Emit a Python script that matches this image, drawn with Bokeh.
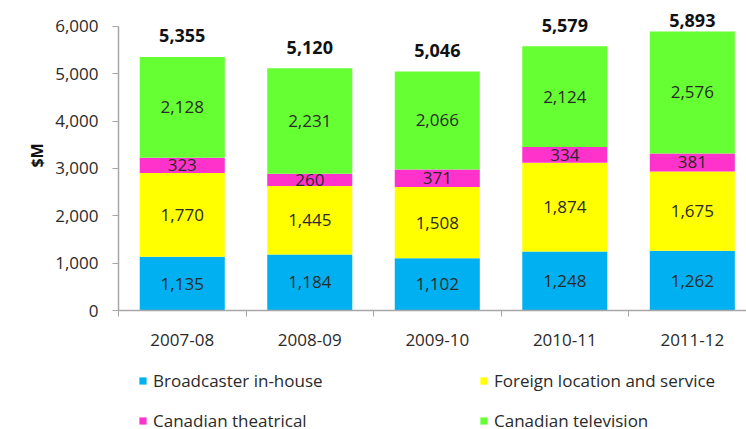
import math
from bokeh.plotting import figure
from bokeh.layouts import column
from bokeh.models import (Range1d, FixedTicker, Legend, LegendItem, Title,
                          ColumnDataSource, NumeralTickFormatter)
from bokeh.core.properties import value
from bokeh.embed import file_html
from bokeh.resources import INLINE

# ---- data ----
years = ["2007-08", "2008-09", "2009-10", "2010-11", "2011-12"]
broadcaster = [1135, 1184, 1102, 1248, 1262]
foreign = [1770, 1445, 1508, 1874, 1675]
theatrical = [323, 260, 371, 334, 381]
television = [2128, 2231, 2066, 2124, 2576]
totals = [5355, 5120, 5046, 5579, 5893]
series_names = ["Broadcaster in-house", "Foreign location and service",
                "Canadian theatrical", "Canadian television"]
y_ticks = [0, 1000, 2000, 3000, 4000, 5000, 6000]

# ---- style ----
colors = ["#00b0f0", "#ffff00", "#ff33cc", "#66ff33"]
FONT = "Open Sans"
TXT = "#2a2a2a"
AXIS = "#a6a6a6"

xs = [i + 0.5 for i in range(len(years))]
bounds = [i for i in range(len(years) + 1)]
series = [broadcaster, foreign, theatrical, television]

p = figure(width=746, height=360, output_backend="svg", toolbar_location=None,
           x_range=Range1d(0, 4.925), y_range=Range1d(0, 6549),
           min_border_left=118, min_border_right=0, min_border_top=0,
           min_border_bottom=50)
p.outline_line_color = None
p.xgrid.visible = False
p.ygrid.visible = False
p.background_fill_color = "white"

bottom = [0] * len(years)
lab_x, lab_y, lab_t = [], [], []
for vals, col in zip(series, colors):
    top = [b + v for b, v in zip(bottom, vals)]
    src = ColumnDataSource(dict(x=xs, bottom=bottom, top=top))
    p.vbar(x="x", bottom="bottom", top="top", width=0.667, source=src,
           fill_color=col, line_color=None)
    for x, b, v in zip(xs, bottom, vals):
        lab_x.append(x)
        lab_y.append(b + v / 2)
        lab_t.append(f"{v:,}")
    bottom = top

p.text(x=lab_x, y=lab_y, text=lab_t, text_align="center", text_baseline="middle",
       text_font=value(FONT), text_font_size="17px", text_color=TXT)

tot_y = [min(t + 445, 6125) for t in totals]
p.text(x=xs, y=tot_y, text=[f"{t:,}" for t in totals], text_align="center",
       text_baseline="middle", text_font=value(FONT), text_font_size="18px",
       text_font_style="bold", text_color="#111111")

# y axis
ya = p.yaxis[0]
ya.ticker = FixedTicker(ticks=y_ticks)
ya.formatter = NumeralTickFormatter(format="0,0")
ya.bounds = (0, 6000)
ya.axis_line_color = AXIS
ya.axis_line_width = 1.5
ya.major_tick_line_color = AXIS
ya.major_tick_out = 6
ya.major_tick_in = 0
ya.minor_tick_line_color = None
ya.major_label_standoff = 14
ya.major_label_text_font = FONT
ya.major_label_text_font_size = "17px"
ya.major_label_text_color = TXT

# x axis
xa = p.xaxis[0]
xa.ticker = FixedTicker(ticks=xs, minor_ticks=bounds)
xa.major_label_overrides = {x: y for x, y in zip(xs, years)}
xa.axis_line_color = AXIS
xa.axis_line_width = 1.5
xa.major_tick_line_color = None
xa.major_tick_out = 0
xa.major_tick_in = 0
xa.minor_tick_line_color = AXIS
xa.minor_tick_out = 6
xa.minor_tick_in = 0
xa.major_label_standoff = 17
xa.major_label_text_font = FONT
xa.major_label_text_font_size = "17px"
xa.major_label_text_color = TXT

ytitle = Title(text="$M", align="center", offset=11,
               text_font=FONT, text_font_size="16px", text_font_style="bold",
               text_color="#111111")
p.add_layout(ytitle, "left")

# ---- legend strip (proxy bars kept far out of view) ----
lg = figure(width=746, height=69, output_backend="svg", toolbar_location=None,
            x_range=Range1d(-21, -20), y_range=Range1d(1e6, 2e6),
            x_axis_location=None, y_axis_location=None,
            min_border_left=0, min_border_right=0, min_border_top=0, min_border_bottom=0)
lg.outline_line_color = None
lg.xgrid.visible = False
lg.ygrid.visible = False
items = []
for name, col, vals in zip(series_names, colors, series):
    r = lg.vbar(x=xs, top=vals, bottom=0, width=0.5, fill_color=col, line_color=None)
    items.append(LegendItem(label=name, renderers=[r]))

legend = Legend(items=items, ncols=2, orientation="horizontal", location=(20, -6),
                glyph_width=9, glyph_height=9, label_standoff=6, label_width=316,
                label_height=30, spacing=10, padding=0, margin=0,
                border_line_color=None, background_fill_alpha=0,
                label_text_font=FONT, label_text_font_size="17px", label_text_color=TXT)
lg.add_layout(legend, "center")

layout = column(p, lg, spacing=0)
open("out.html", "w").write(file_html(layout, INLINE))
